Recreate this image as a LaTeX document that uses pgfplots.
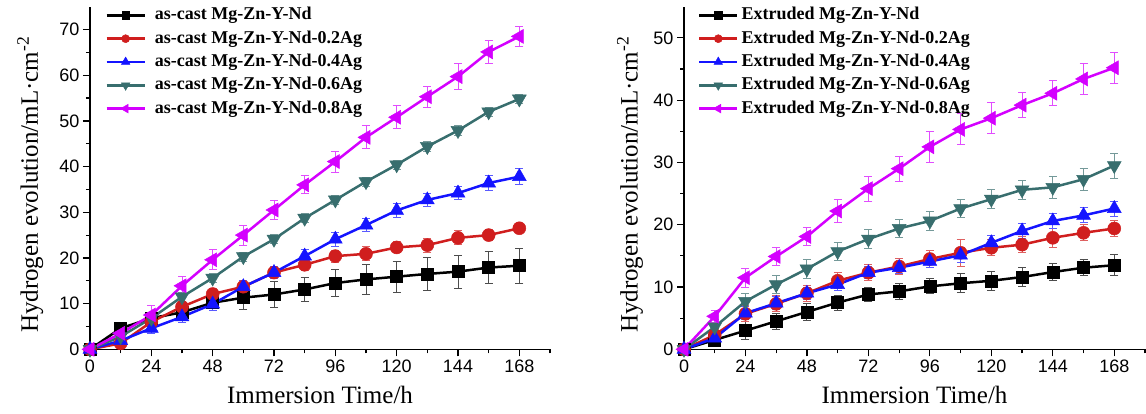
\documentclass[border=0pt]{standalone}
\usepackage{fontspec}
\setmainfont{Liberation Serif}
\newfontfamily\arialfont{Liberation Sans}
\usepackage{pgfplots}
\pgfplotsset{compat=1.18}
\usepackage{pgfplotstable}

\definecolor{cred}{RGB}{208,30,30}
\definecolor{cblue}{RGB}{20,20,255}
\definecolor{cteal}{RGB}{56,110,110}
\definecolor{cmag}{RGB}{212,0,255}

% as-cast
\pgfplotstableread{
t   k    ke   a   ae   b    be   c    ce   d    de
0   0    0    0   0    0    0    0    0    0    0
12  4.6  0.5  1.3 1.0  1.9  1.2  2.8  1.0  3.5  1.0
24  6.8  0.8  6.0 1.0  4.6  1.2  6.8  1.0  7.5  2.0
36  8.1  1.0  9.3 1.0  7.1  1.2  11.5 1.0  13.9 2.0
48  10.2 1.0  12.1 1.2 9.9  1.3  15.6 1.0  19.6 2.2
60  11.3 2.6  13.7 1.0 13.7 1.4  20.3 1.0  25.0 2.2
72  12.0 2.9  16.8 1.0 16.8 1.4  24.1 1.0  30.5 2.0
84  13.1 2.7  18.5 1.3 20.4 1.5  28.7 1.0  36.0 2.0
96  14.5 2.9  20.4 1.3 24.1 1.5  32.7 1.0  41.1 2.3
108 15.3 3.2  20.9 1.5 27.2 1.5  36.7 1.0  46.4 2.5
120 15.9 3.4  22.3 1.2 30.4 1.5  40.4 1.0  50.8 2.5
132 16.5 3.6  22.8 1.5 32.7 1.5  44.4 1.0  55.3 2.3
144 17.0 3.6  24.4 1.5 34.2 1.5  47.9 1.0  59.7 2.8
156 17.9 3.5  25.0 1.2 36.4 1.6  52.0 1.0  65.1 2.5
168 18.3 3.8  26.5 1.0 37.8 1.8  54.8 1.0  68.5 2.2
}\castdata

% extruded
\pgfplotstableread{
t   k    ke   a    ae   b    be   c    ce   d    de
0   0    0    0    0    0    0    0    0    0    0
12  1.5  0.5  2.3  1.0  1.8  1.0  3.6  1.2  5.3  1.0
24  3.0  1.4  5.7  1.3  5.8  1.0  7.7  1.3  11.5 1.5
36  4.5  1.3  7.3  1.3  7.4  1.0  10.4 1.5  14.9 1.5
48  6.0  1.4  9.0  1.3  9.0  1.0  12.9 1.5  18.1 1.5
60  7.5  1.2  11.0 1.3  10.4 1.0  15.7 1.5  22.2 1.8
72  8.8  1.2  12.3 1.3  12.3 1.0  17.7 1.5  25.8 2.0
84  9.3  1.3  13.3 1.3  13.1 1.0  19.4 1.5  29.0 2.0
96  10.1 1.2  14.5 1.3  14.1 1.0  20.6 1.5  32.5 2.5
108 10.6 1.5  15.5 2.2  15.1 1.2  22.6 1.5  35.3 2.5
120 11.0 1.5  16.3 1.3  17.1 1.2  24.1 1.5  37.1 2.5
132 11.6 1.5  16.8 1.3  19.0 1.2  25.6 1.5  39.2 2.0
144 12.4 1.4  17.9 1.5  20.6 1.2  26.0 1.8  41.1 2.0
156 13.1 1.3  18.7 1.3  21.5 1.2  27.3 1.8  43.4 2.5
168 13.5 1.7  19.4 1.3  22.6 1.2  29.5 2.0  45.2 2.5
}\extdata

\pgfplotsset{
  hstyle/.style={
    scale only axis, width=460pt, height=342.6pt,
    axis lines*=left, axis line style={line width=1.5pt},
    xmin=0, xmax=180, ymin=0,
    xtick={0,24,...,168}, minor xtick={12,36,...,180},
    minor y tick num=1,
    tick align=outside, major tick length=7pt, minor tick length=4pt,
    every tick/.style={line width=1.2pt, black},
    tick label style={font=\arialfont\fontsize{18}{20}\selectfont},
    /pgf/number format/assume math mode=true,
    label style={font=\fontsize{25}{28}\selectfont},
    xlabel={Immersion Time/h},
    ylabel={Hydrogen evolution/mL·cm\textsuperscript{-2}},
    xlabel style={at={(axis description cs:0.5,-0.133)}, anchor=center},
    clip=false,
    legend cell align=left,
    legend image code/.code={\draw[mark repeat=2, mark phase=2, every mark/.append style={scale=0.62}] plot coordinates {(0pt,0pt) (19pt,0pt) (38pt,0pt)};},
  },
  ser/.style={color=#1, line width=2.5pt,
    mark options={solid, line width=0.5pt, fill=#1},
    error bars/y dir=both, error bars/y explicit,
    error bars/error bar style={line width=1pt, color=#1!70!white},
    error bars/error mark options={rotate=90, mark size=4pt, line width=1pt, color=#1!70!white}},
}

\begin{document}
\begin{tikzpicture}
\begin{axis}[hstyle, at={(90pt,63.7pt)}, anchor=south west,
  ymax=75, ytick={0,10,...,70},
  ylabel style={at={(axis description cs:-0.13,0.48)}, anchor=center},
  legend style={draw=none, fill=none, at={(rel axis cs:0.033,1)}, anchor=north west,
    inner sep=0pt, row sep=6.3pt, column sep=0pt,
    font=\bfseries\fontsize{18}{20}\selectfont,
    nodes={inner sep=0pt, inner xsep=9pt, text height=13pt, text depth=4pt}},
]
\addplot[ser=black, mark=square*, mark size=6pt] table[x=t, y=k, y error=ke] {\castdata};
\addlegendentry{as-cast Mg-Zn-Y-Nd}
\addplot[ser=cred, mark=*, mark size=6.5pt] table[x=t, y=a, y error=ae] {\castdata};
\addlegendentry{as-cast Mg-Zn-Y-Nd-0.2Ag}
\addplot[ser=cblue, mark=triangle*, mark size=8pt] table[x=t, y=b, y error=be] {\castdata};
\addlegendentry{as-cast Mg-Zn-Y-Nd-0.4Ag}
\addplot[ser=cteal, mark=triangle*, mark size=8pt, every mark/.append style={rotate=180}] table[x=t, y=c, y error=ce] {\castdata};
\addlegendentry{as-cast Mg-Zn-Y-Nd-0.6Ag}
\addplot[ser=cmag, mark=triangle*, mark size=8pt, every mark/.append style={rotate=90}] table[x=t, y=d, y error=de] {\castdata};
\addlegendentry{as-cast Mg-Zn-Y-Nd-0.8Ag}
\end{axis}

\begin{axis}[hstyle, at={(684pt,63.7pt)}, anchor=south west, width=461pt,
  ymax=55, ytick={0,10,...,50},
  ylabel style={at={(axis description cs:-0.117,0.48)}, anchor=center},
  legend style={draw=none, fill=none, at={(rel axis cs:0.03,1)}, anchor=north west,
    inner sep=0pt, row sep=6.3pt, column sep=0pt,
    font=\bfseries\fontsize{18}{20}\selectfont,
    nodes={inner sep=0pt, inner xsep=3pt, text height=13pt, text depth=4pt}},
]
\addplot[ser=black, mark=square*, mark size=6pt] table[x=t, y=k, y error=ke] {\extdata};
\addlegendentry{Extruded Mg-Zn-Y-Nd}
\addplot[ser=cred, mark=*, mark size=6.5pt] table[x=t, y=a, y error=ae] {\extdata};
\addlegendentry{Extruded Mg-Zn-Y-Nd-0.2Ag}
\addplot[ser=cblue, mark=triangle*, mark size=8pt] table[x=t, y=b, y error=be] {\extdata};
\addlegendentry{Extruded Mg-Zn-Y-Nd-0.4Ag}
\addplot[ser=cteal, mark=triangle*, mark size=8pt, every mark/.append style={rotate=180}] table[x=t, y=c, y error=ce] {\extdata};
\addlegendentry{Extruded Mg-Zn-Y-Nd-0.6Ag}
\addplot[ser=cmag, mark=triangle*, mark size=8pt, every mark/.append style={rotate=90}] table[x=t, y=d, y error=de] {\extdata};
\addlegendentry{Extruded Mg-Zn-Y-Nd-0.8Ag}
\end{axis}
\pgfresetboundingbox
\useasboundingbox (0,0) rectangle (1146pt,413pt);
\end{tikzpicture}
\end{document}
